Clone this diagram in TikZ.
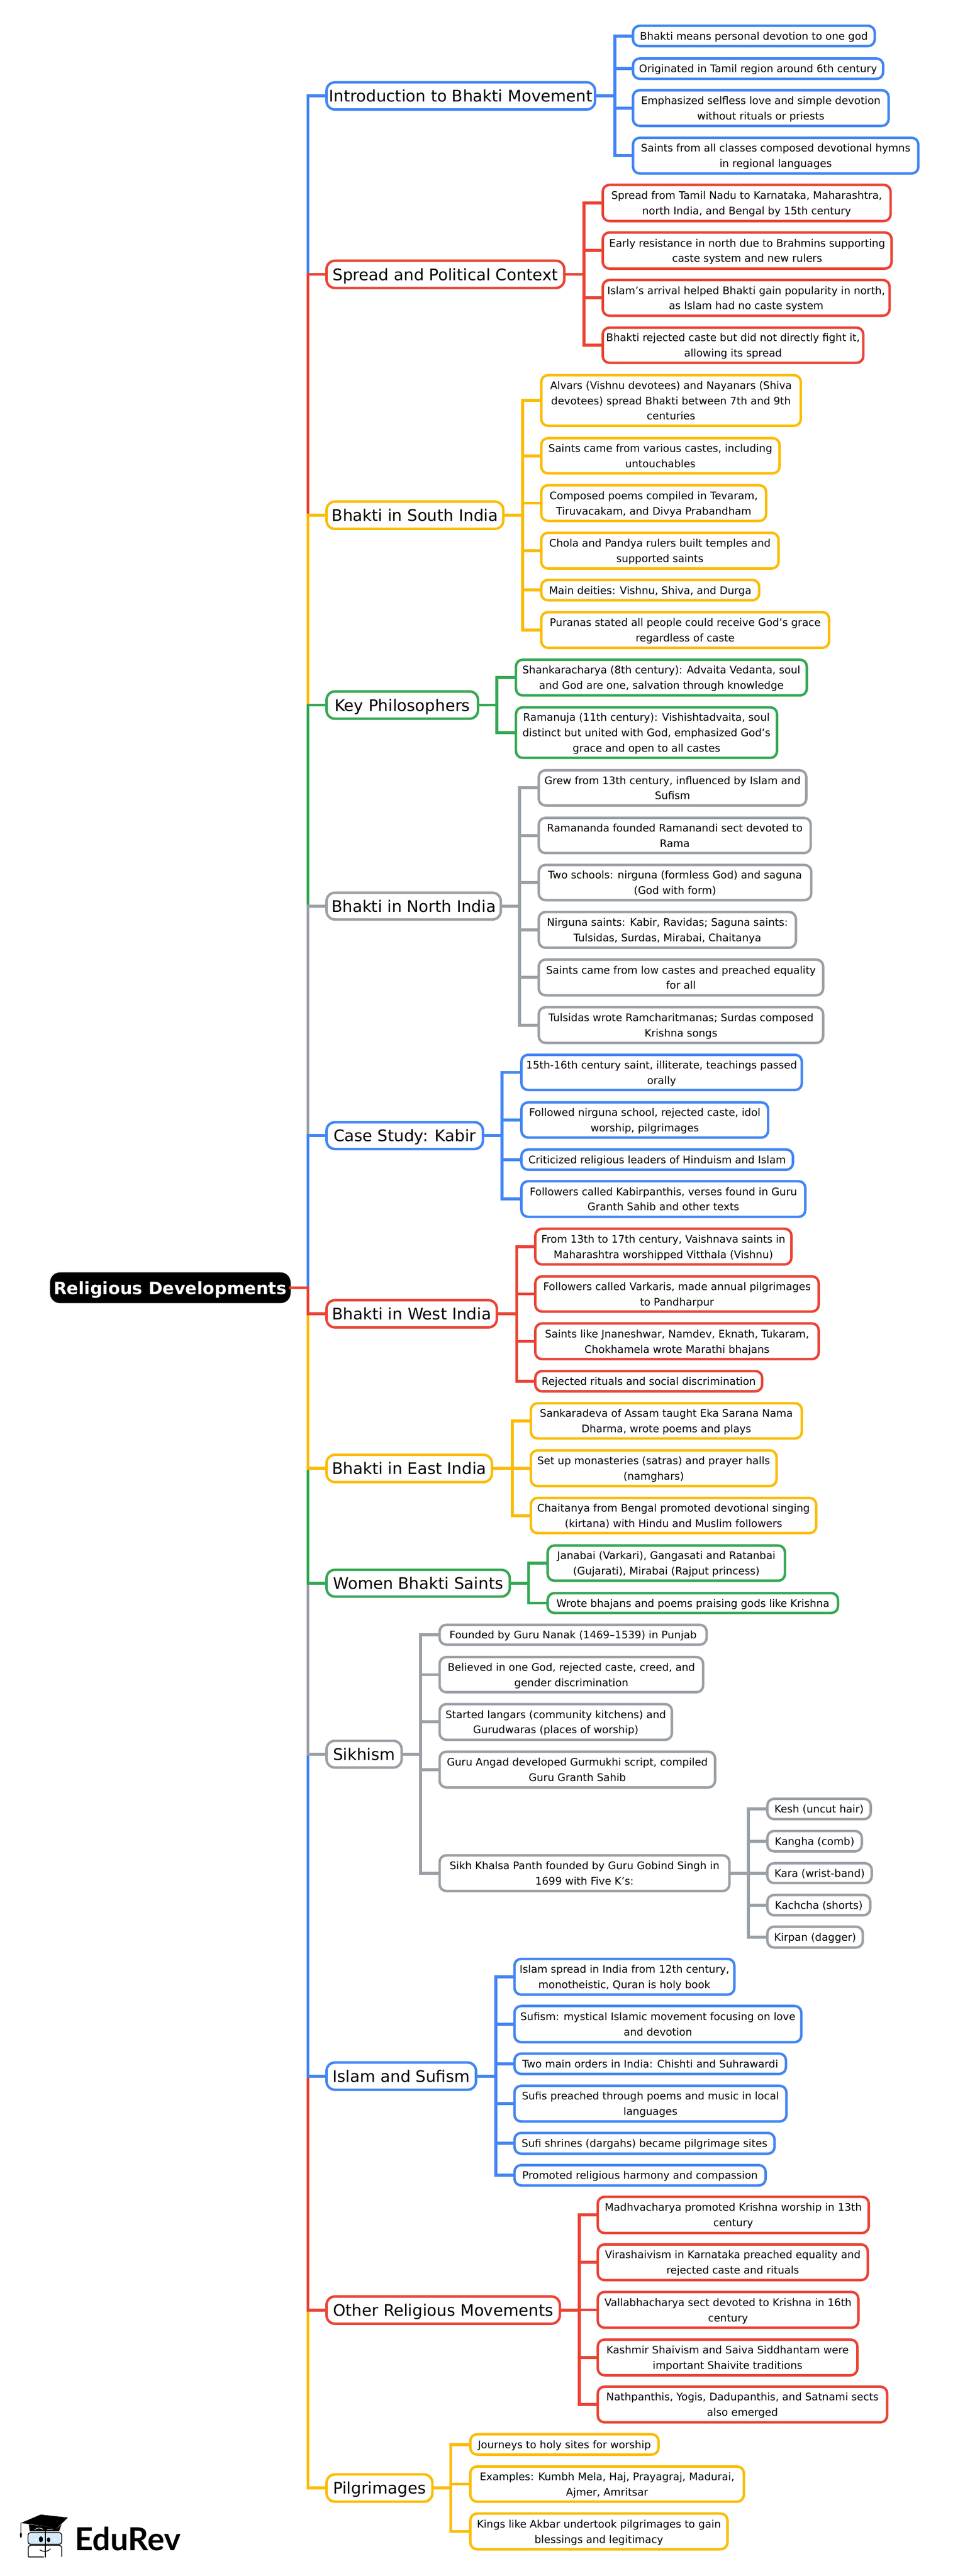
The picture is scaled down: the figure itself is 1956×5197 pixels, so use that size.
\documentclass[tikz,border=0pt]{standalone}
\usepackage{fontspec}
\setmainfont{DejaVu Sans}
\newfontfamily\logofont{Lato}
\definecolor{gblue}{HTML}{4285F4}
\definecolor{gred}{HTML}{EA4335}
\definecolor{gyellow}{HTML}{FBBC04}
\definecolor{ggreen}{HTML}{34A853}
\definecolor{ggray}{HTML}{9AA0A6}
\definecolor{glass}{HTML}{D6EBF8}
\tikzset{
  anybox/.style={shape=rectangle,inner sep=0pt,outer sep=0pt,align=center,line width=5pt},
  rootbox/.style={anybox,draw=black,fill=black,text=white,rounded corners=17.5pt,font=\fontsize{34.5}{48}\selectfont\bfseries},
  topicbox/.style={anybox,draw=#1,fill=white,text=black,rounded corners=17pt,font=\fontsize{32.2}{48}\selectfont},
  subbox/.style={anybox,draw=#1,fill=white,text=black,rounded corners=13.5pt,font=\fontsize{21}{31}\selectfont},
  linkline/.style={line width=6pt,draw=#1,line join=miter},
  logotext/.style={inner sep=0pt,outer sep=0pt,anchor=base west,font=\logofont\bfseries\fontsize{64}{64}\selectfont}
}
% name, left, right, top, bottom (measured edges), style, text
\newcommand{\mmbox}[7]{%
  \pgfmathsetmacro\mmX{(#2+#3)/2-0.25}\pgfmathsetmacro\mmY{(#4+#5)/2}%
  \pgfmathsetmacro\mmW{#3-#2-1.5}\pgfmathsetmacro\mmH{#5-#4-4}%
  \node[#6,minimum width=\mmW pt,minimum height=\mmH pt] (#1) at (\mmX,\mmY) {#7};}
\newcommand{\subn}[7]{\mmbox{#1}{#2}{#3}{#4}{#5}{subbox=#6}{\rule{0pt}{23.5pt}#7\rule[-7.5pt]{0pt}{7.5pt}}}
\newcommand{\topn}[7]{\mmbox{#1}{#2}{#3}{#4}{#5}{topicbox=#6}{\rule{0pt}{36pt}#7\rule[-12pt]{0pt}{12pt}}}
% colour, parent, child, x of the vertical bus
\newcommand{\lnk}[4]{\draw[linkline=#1] (#2.east) -- (#3,0 |- #2.east) |- (#4.west);}
\begin{document}
\begin{tikzpicture}[x=1pt,y=-1pt]
\useasboundingbox (0,0) rectangle (1956,5197);
% root
\mmbox{root}{103}{584.5}{2567.5}{2628.5}{rootbox}{\rule{0pt}{37pt}Religious Developments\rule[-11pt]{0pt}{11pt}}
% topics
\topn{intro}{658}{1201}{164}{223}{gblue}{Introduction to Bhakti Movement}
\topn{spread}{658}{1139}{524}{583}{gred}{Spread and Political Context}
\topn{south}{658}{1016}{1010}{1069}{gyellow}{Bhakti in South India}
\topn{keyp}{658}{965}{1393}{1452}{ggreen}{Key Philosophers}
\topn{north}{658}{1011}{1799}{1857}{ggray}{Bhakti in North India}
\topn{kabir}{658}{975}{2262}{2320}{gblue}{Case Study: Kabir}
\topn{west}{658}{1003}{2621}{2680}{gred}{Bhakti in West India}
\topn{east}{658}{993}{2933}{2992}{gyellow}{Bhakti in East India}
\topn{women}{658}{1029}{3165}{3223}{ggreen}{Women Bhakti Saints}
\topn{sikh}{658}{811}{3510}{3568}{ggray}{Sikhism}
\topn{islam}{658}{961}{4159}{4218}{gblue}{Islam and Sufism}
\topn{other}{658}{1130}{4631}{4690}{gred}{Other Religious Movements}
\topn{pilg}{658}{873}{4990}{5049}{gyellow}{Pilgrimages}
% intro
\subn{a1}{1276}{1765}{50}{95}{gblue}{Bhakti means personal devotion to one god}
\subn{a2}{1276}{1782}{116}{161}{gblue}{Originated in Tamil region around 6th century}
\subn{a3}{1276}{1793}{180}{256}{gblue}{Emphasized selfless love and simple devotion\\without rituals or priests}
\subn{a4}{1276}{1853}{276}{352}{gblue}{Saints from all classes composed devotional hymns\\in regional languages}
% spread
\subn{b1}{1215}{1797}{371}{448}{gred}{Spread from Tamil Nadu to Karnataka, Maharashtra,\\north India, and Bengal by 15th century}
\subn{b2}{1215}{1799}{467}{544}{gred}{Early resistance in north due to Brahmins supporting\\caste system and new rulers}
\subn{b3}{1215}{1795}{563}{639}{gred}{Islam’s arrival helped Bhakti gain popularity in north,\\as Islam had no caste system}
\subn{b4}{1215}{1742}{659}{734}{gred}{Bhakti rejected caste but did not directly fight it,\\allowing its spread}
% south
\subn{c1}{1091}{1616}{755}{861}{gyellow}{Alvars (Vishnu devotees) and Nayanars (Shiva\\devotees) spread Bhakti between 7th and 9th\\centuries}
\subn{c2}{1091}{1573}{882}{957}{gyellow}{Saints came from various castes, including\\untouchables}
\subn{c3}{1091}{1546}{977}{1053}{gyellow}{Composed poems compiled in Tevaram,\\Tiruvacakam, and Divya Prabandham}
\subn{c4}{1091}{1571}{1073}{1149}{gyellow}{Chola and Pandya rulers built temples and\\supported saints}
\subn{c5}{1091}{1532}{1168}{1213}{gyellow}{Main deities: Vishnu, Shiva, and Durga}
\subn{c6}{1091}{1673}{1233}{1309}{gyellow}{Puranas stated all people could receive God’s grace\\regardless of caste}
% philosophers
\subn{d1}{1040}{1628}{1329}{1405}{ggreen}{Shankaracharya (8th century): Advaita Vedanta, soul\\and God are one, salvation through knowledge}
\subn{d2}{1040}{1568}{1425}{1531}{ggreen}{Ramanuja (11th century): Vishishtadvaita, soul\\distinct but united with God, emphasized God’s\\grace and open to all castes}
% north
\subn{e1}{1086}{1627}{1552}{1627}{ggray}{Grew from 13th century, influenced by Islam and\\Sufism}
\subn{e2}{1086}{1636}{1648}{1723}{ggray}{Ramananda founded Ramanandi sect devoted to\\Rama}
\subn{e3}{1086}{1637}{1743}{1818}{ggray}{Two schools: nirguna (formless God) and saguna\\(God with form)}
\subn{e4}{1086}{1606}{1838}{1914}{ggray}{Nirguna saints: Kabir, Ravidas; Saguna saints:\\Tulsidas, Surdas, Mirabai, Chaitanya}
\subn{e5}{1086}{1661}{1934}{2010}{ggray}{Saints came from low castes and preached equality\\for all}
\subn{e6}{1086}{1661}{2030}{2106}{ggray}{Tulsidas wrote Ramcharitmanas; Surdas composed\\Krishna songs}
% kabir
\subn{f1}{1051}{1618}{2126}{2201}{gblue}{15th-16th century saint, illiterate, teachings passed\\orally}
\subn{f2}{1051}{1550}{2222}{2297}{gblue}{Followed nirguna school, rejected caste, idol\\worship, pilgrimages}
\subn{f3}{1051}{1600}{2317}{2362}{gblue}{Criticized religious leaders of Hinduism and Islam}
\subn{f4}{1051}{1625}{2381}{2457}{gblue}{Followers called Kabirpanthis, verses found in Guru\\Granth Sahib and other texts}
% west
\subn{g1}{1079}{1597}{2477}{2553}{gred}{From 13th to 17th century, Vaishnava saints in\\Maharashtra worshipped Vitthala (Vishnu)}
\subn{g2}{1079}{1652}{2573}{2648}{gred}{Followers called Varkaris, made annual pilgrimages\\to Pandharpur}
\subn{g3}{1079}{1652}{2668}{2744}{gred}{Saints like Jnaneshwar, Namdev, Eknath, Tukaram,\\Chokhamela wrote Marathi bhajans}
\subn{g4}{1079}{1538}{2764}{2809}{gred}{Rejected rituals and social discrimination}
% east
\subn{h1}{1070}{1618}{2829}{2904}{gyellow}{Sankaradeva of Assam taught Eka Sarana Nama\\Dharma, wrote poems and plays}
\subn{h2}{1070}{1567}{2924}{3000}{gyellow}{Set up monasteries (satras) and prayer halls\\(namghars)}
\subn{h3}{1070}{1647}{3020}{3095}{gyellow}{Chaitanya from Bengal promoted devotional singing\\(kirtana) with Hindu and Muslim followers}
% women
\subn{i1}{1104}{1584}{3116}{3191}{ggreen}{Janabai (Varkari), Gangasati and Ratanbai\\(Gujarati), Mirabai (Rajput princess)}
\subn{i2}{1104}{1691}{3212}{3256}{ggreen}{Wrote bhajans and poems praising gods like Krishna}
% sikhism
\subn{j1}{886}{1426}{3276}{3320}{ggray}{Founded by Guru Nanak (1469–1539) in Punjab}
\subn{j2}{886}{1419}{3341}{3416}{ggray}{Believed in one God, rejected caste, creed, and\\gender discrimination}
\subn{j3}{886}{1356}{3436}{3512}{ggray}{Started langars (community kitchens) and\\Gurudwaras (places of worship)}
\subn{j4}{886}{1443}{3532}{3608}{ggray}{Guru Angad developed Gurmukhi script, compiled\\Guru Granth Sahib}
\subn{j5}{886}{1472}{3741}{3817}{ggray}{Sikh Khalsa Panth founded by Guru Gobind Singh in\\1699 with Five K’s:}
\subn{k1}{1547}{1757}{3627}{3672}{ggray}{Kesh (uncut hair)}
\subn{k2}{1547}{1739}{3692}{3737}{ggray}{Kangha (comb)}
\subn{k3}{1547}{1759}{3757}{3801}{ggray}{Kara (wrist-band)}
\subn{k4}{1547}{1756}{3821}{3866}{ggray}{Kachcha (shorts)}
\subn{k5}{1547}{1741}{3885}{3931}{ggray}{Kirpan (dagger)}
% islam
\subn{l1}{1037}{1482}{3950}{4026}{gblue}{Islam spread in India from 12th century,\\monotheistic, Quran is holy book}
\subn{l2}{1037}{1617}{4045}{4122}{gblue}{Sufism: mystical Islamic movement focusing on love\\and devotion}
\subn{l3}{1037}{1586}{4141}{4186}{gblue}{Two main orders in India: Chishti and Suhrawardi}
\subn{l4}{1037}{1587}{4206}{4282}{gblue}{Sufis preached through poems and music in local\\languages}
\subn{l5}{1037}{1563}{4301}{4347}{gblue}{Sufi shrines (dargahs) became pilgrimage sites}
\subn{l6}{1037}{1545}{4366}{4411}{gblue}{Promoted religious harmony and compassion}
% other
\subn{m1}{1205}{1753}{4430}{4507}{gred}{Madhvacharya promoted Krishna worship in 13th\\century}
\subn{m2}{1205}{1751}{4526}{4602}{gred}{Virashaivism in Karnataka preached equality and\\rejected caste and rituals}
\subn{m3}{1205}{1732}{4622}{4698}{gred}{Vallabhacharya sect devoted to Krishna in 16th\\century}
\subn{m4}{1205}{1730}{4718}{4794}{gred}{Kashmir Shaivism and Saiva Siddhantam were\\important Shaivite traditions}
\subn{m5}{1205}{1790}{4813}{4889}{gred}{Nathpanthis, Yogis, Dadupanthis, and Satnami sects\\also emerged}
% pilgrimages
\subn{n1}{948}{1329}{4909}{4954}{gyellow}{Journeys to holy sites for worship}
\subn{n2}{948}{1501}{4974}{5049}{gyellow}{Examples: Kumbh Mela, Haj, Prayagraj, Madurai,\\Ajmer, Amritsar}
\subn{n3}{948}{1468}{5069}{5145}{gyellow}{Kings like Akbar undertook pilgrimages to gain\\blessings and legitimacy}
% second-level connectors
\foreach \c in {a1,a2,a3,a4} {\lnk{gblue}{intro}{1240}{\c}}
\foreach \c in {b1,b2,b3,b4} {\lnk{gred}{spread}{1178}{\c}}
\foreach \c in {c1,c2,c3,c4,c5,c6} {\lnk{gyellow}{south}{1054}{\c}}
\foreach \c in {d1,d2} {\lnk{ggreen}{keyp}{1002}{\c}}
\foreach \c in {e1,e2,e3,e4,e5,e6} {\lnk{ggray}{north}{1048}{\c}}
\foreach \c in {f1,f2,f3,f4} {\lnk{gblue}{kabir}{1012}{\c}}
\foreach \c in {g1,g2,g3,g4} {\lnk{gred}{west}{1042}{\c}}
\foreach \c in {h1,h2,h3} {\lnk{gyellow}{east}{1033}{\c}}
\foreach \c in {i1,i2} {\lnk{ggreen}{women}{1066}{\c}}
\foreach \c in {j1,j2,j3,j4,j5} {\lnk{ggray}{sikh}{848}{\c}}
\foreach \c in {k1,k2,k3,k4,k5} {\lnk{ggray}{j5}{1509}{\c}}
\foreach \c in {l1,l2,l3,l4,l5,l6} {\lnk{gblue}{islam}{1000}{\c}}
\foreach \c in {m1,m2,m3,m4,m5} {\lnk{gred}{other}{1168}{\c}}
\foreach \c in {n1,n2,n3} {\lnk{gyellow}{pilg}{909}{\c}}
% trunk connectors (later ones lie over earlier ones)
\lnk{gblue}{root}{621}{intro}
\lnk{gred}{root}{621}{spread}
\lnk{gyellow}{root}{621}{south}
\lnk{ggreen}{root}{621}{keyp}
\lnk{ggray}{root}{621}{north}
\lnk{gblue}{root}{621}{kabir}
\lnk{gyellow}{root}{621}{pilg}
\lnk{gred}{root}{621}{other}
\lnk{gblue}{root}{621}{islam}
\lnk{ggray}{root}{621}{sikh}
\lnk{ggreen}{root}{621}{women}
\lnk{gyellow}{root}{621}{east}
\lnk{gred}{root}{621}{west}
% logo
\node[logotext] (brand) at (151,5146) {EduRev};
\fill[black] (42,5090) -- (82,5073) -- (137,5079) -- (112,5103) -- (95,5097) -- cycle;
\fill[black] (58,5093) -- (60,5107) -- (119,5107) -- (124,5093) -- (112,5103) -- (95,5097) -- cycle;
\draw[black,line width=1.2pt] (42,5090) -- (42,5110);
\fill[black] (42,5121) .. controls (39,5115) and (40,5111) .. (42,5109) .. controls (44,5111) and (46,5115) .. (42,5121) -- cycle;
\draw[white,line width=1pt] (70,5104) .. controls (74,5099) and (82,5099) .. (87,5103);
\draw[white,line width=1pt] (95,5104) .. controls (98,5102) and (103,5102) .. (106,5104);
\draw[black,line width=1.6pt,fill=glass,rounded corners=5pt] (56.5,5109.5) rectangle (124.5,5133);
\draw[black,line width=1.6pt,rounded corners=5pt] (57,5158) -- (57,5135) -- (124.5,5135) -- (124.5,5158);
\draw[black,line width=1.6pt] (57,5158.5) -- (88,5158.5);
\draw[black,line width=2pt] (91,5106) -- (91,5159);
\fill[black] (82.5,5123) ellipse (4pt and 6pt);
\fill[black] (98,5124) ellipse (3.5pt and 5pt);
\fill[white] (72,5122) rectangle (75,5125);
\fill[white] (109,5122) rectangle (112,5125);
\draw[black,line width=1.4pt] (80,5144) .. controls (87,5149) and (97,5148) .. (102,5142);
\end{tikzpicture}
\end{document}
